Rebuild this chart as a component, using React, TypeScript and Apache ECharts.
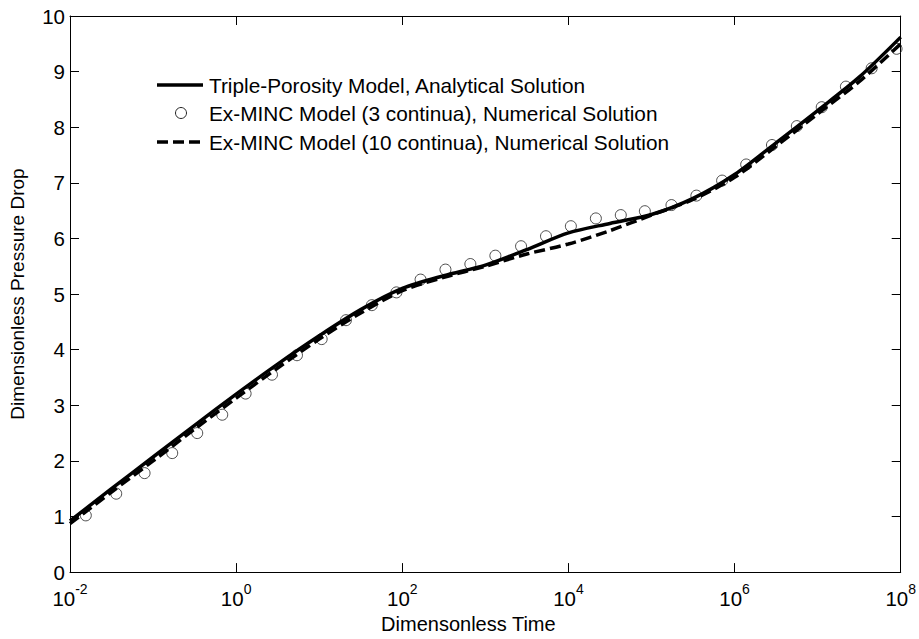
import React, { useEffect, useRef } from 'react';
import * as echarts from 'echarts';

// Tick values
const xTickValues = [0.01, 1, 100, 1e4, 1e6, 1e8];

// Triple-Porosity Model, Analytical Solution
const analyticalT = [0.01, 0.0316, 0.1, 0.316, 1, 3.16, 10, 31.6, 100, 316, 1000, 3160, 10000, 31600, 100000, 316000, 1e6, 3.16e6, 1e7, 3.16e7, 1e8];
const analyticalP = [0.92, 1.5, 2.07, 2.64, 3.2, 3.74, 4.25, 4.72, 5.1, 5.33, 5.52, 5.8, 6.1, 6.27, 6.43, 6.72, 7.15, 7.72, 8.3, 8.9, 9.62];

// Ex-MINC Model (3 continua), Numerical Solution
const minc3T = [0.0155, 0.036, 0.079, 0.17, 0.34, 0.68, 1.3, 2.7, 5.4, 10.7, 21, 43, 85, 166, 331, 660, 1320, 2690, 5370, 10700, 21400, 42700, 83200, 174000, 347000, 708000, 1380000, 2820000, 5620000, 11200000, 21900000, 44700000, 89100000];
const minc3P = [1.02, 1.41, 1.78, 2.14, 2.5, 2.83, 3.21, 3.55, 3.9, 4.19, 4.53, 4.8, 5.03, 5.26, 5.44, 5.54, 5.69, 5.86, 6.04, 6.22, 6.36, 6.42, 6.49, 6.6, 6.77, 7.04, 7.33, 7.68, 8.02, 8.36, 8.73, 9.06, 9.41];

// Ex-MINC Model (10 continua), Numerical Solution
const minc10T = [0.01, 0.0316, 0.1, 0.316, 1, 3.16, 10, 31.6, 100, 316, 1000, 3160, 10000, 31600, 100000, 316000, 1e6, 3.16e6, 1e7, 3.16e7, 1e8];
const minc10P = [0.87, 1.44, 2.0, 2.57, 3.13, 3.67, 4.19, 4.66, 5.06, 5.3, 5.5, 5.72, 5.9, 6.14, 6.42, 6.7, 7.1, 7.66, 8.24, 8.82, 9.5];

const legendLabels = [
  'Triple-Porosity Model, Analytical Solution',
  'Ex-MINC Model (3 continua), Numerical Solution',
  'Ex-MINC Model (10 continua), Numerical Solution',
];

const FONT = '"Liberation Sans", Arial, Helvetica, sans-serif';

const zip = (xs: number[], ys: number[]) => xs.map((x, i) => [x, ys[i]]);

export default function App() {
  const ref = useRef<HTMLDivElement>(null);
  useEffect(() => {
    if (!ref.current) return;
    const chart = echarts.init(ref.current, undefined, { renderer: 'svg' });
    const tickStyle = { show: true, inside: true, length: 9, lineStyle: { color: '#000', width: 1 } };
    const axisLineStyle = { show: true, onZero: false, lineStyle: { color: '#000', width: 1 } };
    const legendY = [85, 113, 142];
    chart.setOption({
      animation: false,
      backgroundColor: '#fff',
      grid: { left: 70, top: 16, right: 17, bottom: 62, containLabel: false },
      xAxis: [
        {
          type: 'log',
          logBase: 10,
          min: 0.01,
          max: 1e8,
          name: 'Dimensonless Time',
          nameLocation: 'middle',
          nameGap: 41,
          nameTextStyle: { fontFamily: FONT, fontSize: 20, color: '#000', padding: [0, 34, 0, 0] },
          axisLine: axisLineStyle,
          axisTick: { ...tickStyle, customValues: xTickValues },
          minorTick: { show: false },
          splitLine: { show: false },
          axisLabel: {
            customValues: xTickValues,
            margin: 10,
            formatter: (v: number) => `{b|10}{s|${Math.round(Math.log10(v))}}`,
            rich: {
              b: { fontFamily: FONT, fontSize: 20.5, color: '#000', lineHeight: 27, verticalAlign: 'bottom' },
              s: { fontFamily: FONT, fontSize: 14, color: '#000', lineHeight: 14, verticalAlign: 'top' },
            },
          },
        },
        {
          type: 'log',
          logBase: 10,
          min: 0.01,
          max: 1e8,
          position: 'top',
          axisLine: axisLineStyle,
          axisTick: { ...tickStyle, customValues: xTickValues },
          axisLabel: { show: false },
          splitLine: { show: false },
        },
      ],
      yAxis: [
        {
          type: 'value',
          min: 0,
          max: 10,
          interval: 1,
          name: 'Dimensionless Pressure Drop',
          nameLocation: 'middle',
          nameGap: 43,
          nameTextStyle: { fontFamily: FONT, fontSize: 19, color: '#000' },
          axisLine: axisLineStyle,
          axisTick: tickStyle,
          splitLine: { show: false },
          axisLabel: { fontFamily: FONT, fontSize: 20.5, color: '#000', margin: 5 },
        },
        {
          type: 'value',
          min: 0,
          max: 10,
          interval: 1,
          position: 'right',
          axisLine: axisLineStyle,
          axisTick: tickStyle,
          axisLabel: { show: false },
          splitLine: { show: false },
        },
      ],
      series: [
        {
          name: legendLabels[0],
          type: 'line',
          data: zip(analyticalT, analyticalP),
          symbol: 'none',
          smooth: 0.3,
          lineStyle: { color: '#000', width: 3.5 },
        },
        {
          name: legendLabels[1],
          type: 'scatter',
          data: zip(minc3T, minc3P),
          symbol: 'circle',
          symbolSize: 11,
          itemStyle: { color: 'rgba(0,0,0,0)', borderColor: '#222', borderWidth: 1 },
        },
        {
          name: legendLabels[2],
          type: 'line',
          data: zip(minc10T, minc10P),
          symbol: 'none',
          smooth: 0.3,
          lineStyle: { color: '#000', width: 3.5, type: [11, 5] },
        },
      ],
      graphic: [
        { type: 'line', shape: { x1: 157, y1: legendY[0], x2: 203, y2: legendY[0] }, style: { stroke: '#000', lineWidth: 3.5 } },
        { type: 'circle', shape: { cx: 181, cy: legendY[1], r: 5.5 }, style: { fill: 'none', stroke: '#222', lineWidth: 1 } },
        { type: 'line', shape: { x1: 157, y1: legendY[2], x2: 203, y2: legendY[2] }, style: { stroke: '#000', lineWidth: 3.5, lineDash: [11, 5] } },
        ...legendLabels.map((t, i) => ({
          type: 'text',
          x: 209,
          y: legendY[i],
          style: { text: t, fontFamily: FONT, fontSize: 20.8, fill: '#000', textVerticalAlign: 'middle', textAlign: 'left' },
        })),
      ],
    });
    return () => chart.dispose();
  }, []);
  return <div ref={ref} style={{ position: 'fixed', left: 0, top: 0, width: 919, height: 639, background: '#fff' }} />;
}
